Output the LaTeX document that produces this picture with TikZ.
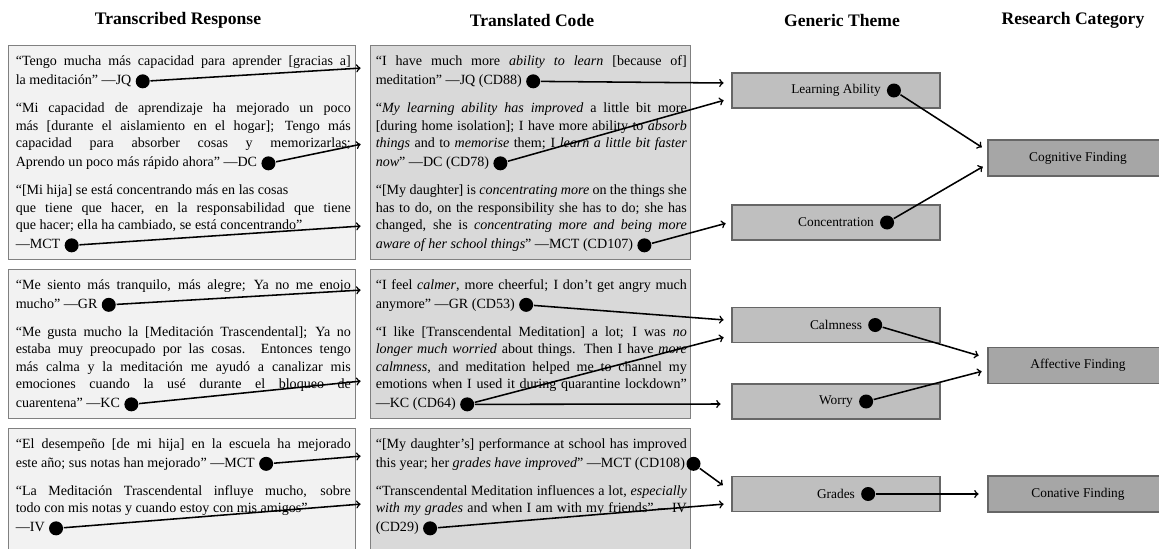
\documentclass[tikz,border=0pt]{standalone}
\usepackage{fontspec}
\setmainfont{Liberation Serif}
\usetikzlibrary{arrows,positioning}
\newcommand{\fullpar}{\strut{\parfillskip=0pt\par}}

\tikzset{
  resp box/.style={draw=black!50, fill=black!5, line width=0.8pt, anchor=north west, inner sep=0pt},
  code box/.style={resp box, fill=black!15},
  theme box/.style={draw=black!60, fill=black!25, line width=0.8pt, minimum width=5.2cm, minimum height=0.875cm},
  cat box/.style={theme box, fill=black!35, minimum width=4.5cm, minimum height=0.9cm},
  label/.style={font=\fontsize{9.5}{11}\selectfont},
  quote/.style={anchor=north west, inner sep=0pt, align=justify, text width=8.375cm,
    font=\fontsize{10}{12.45}\selectfont, execute at begin node={\parindent=0pt\strut}},
  code/.style={quote, text width=7.775cm},
  tail/.style={inner sep=0pt, font=\fontsize{10}{12.45}\selectfont, execute at begin node=\strut},
  dot/.style={circle, fill=black, minimum size=0.35cm, inner sep=0pt},
  head/.style={font=\fontsize{12.5}{14}\selectfont\bfseries},
}

\begin{document}
\begin{tikzpicture}[x=0.025cm, y=-0.025cm, shorten >=1pt, line width=1.1pt]
\clip (0,0) rectangle (1159,548);
% column headings
\node[head] (h-resp) at (178,20) {Transcribed Response};
\node[head] (h-code) at (532,20) {Translated Code};
\node[head] (h-theme) at (842,20) {Generic Theme};
\node[head] (h-cat) at (1073,20) {Research Category};

% boxes
\node[resp box, minimum width=8.675cm, minimum height=5.3375cm] (r1) at (8,45) {};
\node[resp box, minimum width=8.675cm, minimum height=3.725cm] (r2) at (8,268.5) {};
\node[resp box, minimum width=8.675cm, minimum height=3.2cm] (r3) at (8,427.5) {};
\node[code box, minimum width=8cm, minimum height=5.3375cm] (c1) at (370,45) {};
\node[code box, minimum width=8cm, minimum height=3.725cm] (c2) at (370,268.5) {};
\node[code box, minimum width=8cm, minimum height=3.2cm] (c3) at (370,427.5) {};

% transcribed responses
\node[quote] (b-jq) at (15,52.75) {“Tengo mucha más capacidad para aprender [gracias a]\fullpar};
\node[tail, below right=0pt and 0pt of b-jq.south west] (t-jq) {la meditación” —JQ};
\node[quote] (b-dc) at (15,99.75) {“Mi capacidad de aprendizaje ha mejorado un poco\linebreak{} más [durante el aislamiento en el hogar]; Tengo más\linebreak{} capacidad para absorber cosas y memorizarlas;\fullpar};
\node[tail, below right=0pt and 0pt of b-dc.south west] (t-dc) {Aprendo un poco más rápido ahora” —DC};
\node[quote] (b-mct) at (15,181.75) {“[Mi hija] se está concentrando más en las cosas\\ que tiene que hacer, en la responsabilidad que tiene\linebreak{} que hacer; ella ha cambiado, se está concentrando”\strut};
\node[tail, below right=0pt and 0pt of b-mct.south west] (t-mct) {—MCT};

\node[quote] (b-gr) at (15,276.25) {“Me siento más tranquilo, más alegre; Ya no me enojo\fullpar};
\node[tail, below right=0pt and 0pt of b-gr.south west] (t-gr) {mucho” —GR};
\node[quote] (b-kc) at (15,323.25) {“Me gusta mucho la [Meditación Trascendental]; Ya no\linebreak{} estaba muy preocupado por las cosas. Entonces tengo\linebreak{} más calma y la meditación me ayudó a canalizar mis\linebreak{} emociones cuando la usé durante el bloqueo de\fullpar};
\node[tail, below right=0pt and 0pt of b-kc.south west] (t-kc) {cuarentena” —KC};

\node[quote] (b-mct3) at (15,435.25) {“El desempeño [de mi hija] en la escuela ha mejorado\fullpar};
\node[tail, below right=0pt and 0pt of b-mct3.south west] (t-mct3) {este año; sus notas han mejorado” —MCT};
\node[quote] (b-iv) at (15,482.25) {“La Meditación Trascendental influye mucho, sobre\linebreak{} todo con mis notas y cuando estoy con mis amigos”\strut};
\node[tail, below right=0pt and 0pt of b-iv.south west] (t-iv) {—IV};

% translated codes
\node[code] (b-cd88) at (375,52.75) {“I have much more \emph{ability to learn} [because of]\fullpar};
\node[tail, below right=0pt and 0pt of b-cd88.south west] (t-cd88) {meditation” —JQ (CD88)};
\node[code] (b-cd78) at (375,99.75) {“\emph{My learning ability has improved} a little bit more\linebreak{} [during home isolation]; I have more ability to \emph{absorb}\linebreak{} \emph{things} and to \emph{memorise} them; I \emph{learn a little bit faster}\fullpar};
\node[tail, below right=0pt and 0pt of b-cd78.south west] (t-cd78) {\emph{now}” —DC (CD78)};
\node[code] (b-cd107) at (375,181.75) {“[My daughter] is \emph{concentrating more} on the things she\linebreak{} has to do, on the responsibility she has to do; she has\linebreak{} changed, she is \emph{concentrating more and being more}\fullpar};
\node[tail, below right=0pt and 0pt of b-cd107.south west] (t-cd107) {\emph{aware of her school things}” —MCT (CD107)};

\node[code] (b-cd53) at (375,276.25) {“I feel \emph{calmer}, more cheerful; I don't get angry much\fullpar};
\node[tail, below right=0pt and 0pt of b-cd53.south west] (t-cd53) {anymore” —GR (CD53)};
\node[code] (b-cd64) at (375,323.25) {“I like [Transcendental Meditation] a lot; I was \emph{no}\linebreak{} \emph{longer much worried} about things. Then I have \emph{more}\linebreak{} \emph{calmness}, and meditation helped me to channel my\linebreak{} emotions when I used it during quarantine lockdown”\fullpar};
\node[tail, below right=0pt and 0pt of b-cd64.south west] (t-cd64) {—KC (CD64)};

\node[code] (b-cd108) at (375,435.25) {“[My daughter's] performance at school has improved\fullpar};
\node[tail, below right=0pt and 0pt of b-cd108.south west] (t-cd108) {this year; her \emph{grades have improved}” —MCT (CD108)};
\node[code] (b-cd29) at (375,482.25) {“Transcendental Meditation influences a lot, \emph{especially}\linebreak{} \emph{with my grades} and when I am with my friends” —IV\fullpar};
\node[tail, below right=0pt and 0pt of b-cd29.south west] (t-cd29) {(CD29)};

% generic themes and research categories
\node[theme box] (b-learn) at (836,90.5) {};
\node[theme box] (b-conc) at (836,222.5) {};
\node[theme box] (b-calm) at (836,325) {};
\node[theme box] (b-worry) at (836,401.5) {};
\node[theme box] (b-grades) at (836,494) {};
\node[cat box] (cog) at (1078,158) {};
\node[cat box] (aff) at (1078,365.5) {};
\node[cat box] (con) at (1078,494) {};
\node[label] (learn) at (b-learn) {Learning Ability};
\node[label] (conc) at (b-conc) {Concentration};
\node[label] (calm) at (b-calm) {Calmness};
\node[label] (worry) at (b-worry) {Worry};
\node[label] (grades) at (b-grades) {Grades};
\node[label] at (cog) {Cognitive Finding};
\node[label] at (aff) {Affective Finding};
\node[label] at (con) {Conative Finding};

% dots
\foreach \n in {jq,dc,mct,gr,kc,mct3,iv,cd88,cd78,cd107,cd53,cd64,cd29}
  \node[dot, right=2pt of t-\n] (d-\n) {};
\node[dot, right=0pt of t-cd108] (d-cd108) {};
\foreach \n in {learn,conc,calm,worry,grades}
  \node[dot, right=0pt of \n] (d-\n) {};

% arrow ends
\coordinate (in-jq) at (362,68);
\coordinate (in-dc) at (362,144);
\coordinate (in-mct) at (362,226);
\coordinate (in-gr) at (362,290);
\coordinate (in-kc) at (362,381);
\coordinate (in-mct3) at (362,456);
\coordinate (in-iv) at (362,504);
\coordinate (in-cd88) at (725,83);
\coordinate (in-cd78) at (725,100);
\coordinate (in-cd107) at (727,223);
\coordinate (in-cd53) at (725,320);
\coordinate (in-cd64a) at (725,337);
\coordinate (in-cd64b) at (722,404);
\coordinate (in-cd108) at (724,486);
\coordinate (in-cd29) at (725,504);
\coordinate (in-learn) at (983,148);
\coordinate (in-conc) at (984,166);
\coordinate (in-calm) at (980,356);
\coordinate (in-worry) at (983,371);
\coordinate (in-grades) at (980,494);

% connectors
\foreach \n in {jq,dc,mct,gr,kc,mct3,iv,cd88,cd78,cd107,cd53,cd108,cd29,learn,conc,calm,worry,grades}
  \draw[->] (d-\n) -- (in-\n);
\draw[->] (d-cd64) -- (in-cd64a);
\draw[->] (d-cd64) -- (in-cd64b);
\end{tikzpicture}
\end{document}
